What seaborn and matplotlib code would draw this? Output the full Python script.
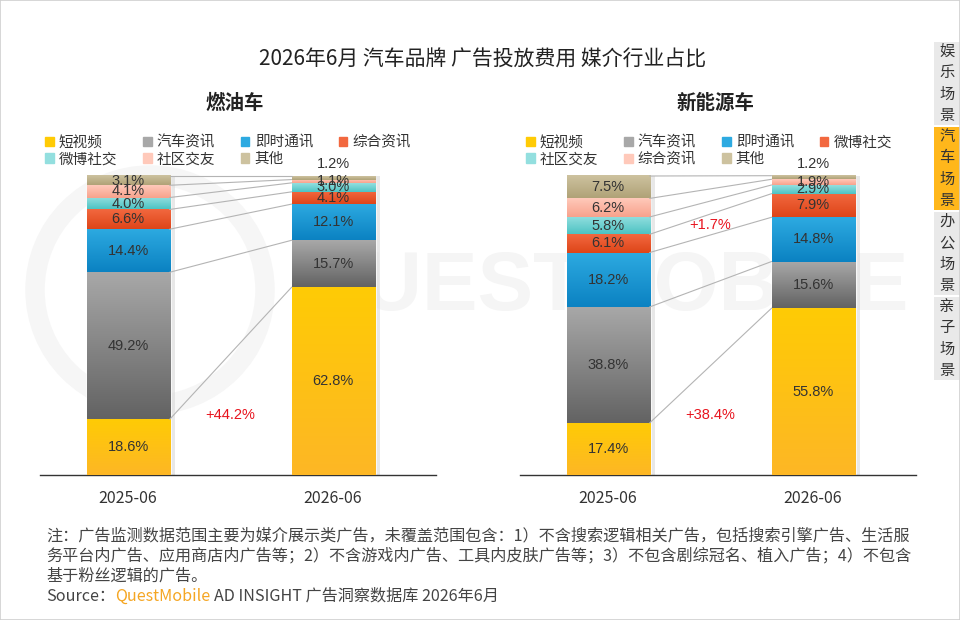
import numpy as np
import pandas as pd
import matplotlib
matplotlib.use("Agg")
import matplotlib.pyplot as plt
import seaborn as sns
from matplotlib.patches import Rectangle, Patch, Ellipse
from matplotlib.colors import LinearSegmentedColormap

sns.set_style("white")
plt.rcParams['font.family'] = ['Noto Sans CJK SC', 'DejaVu Sans']

# ---- data ----
periods = ["2025-06", "2026-06"]

fuel_labels = ["短视频", "汽车资讯", "即时通讯", "综合资讯", "微博社交", "社区交友", "其他"]
fuel_2025 = [18.6, 49.2, 14.4, 6.6, 4.0, 4.1, 3.1]
fuel_2026 = [62.8, 15.7, 12.1, 4.1, 3.0, 1.1, 1.2]
fuel_note = "+44.2%"

nev_labels = ["短视频", "汽车资讯", "即时通讯", "微博社交", "社区交友", "综合资讯", "其他"]
nev_2025 = [17.4, 38.8, 18.2, 6.1, 5.8, 6.2, 7.5]
nev_2026 = [55.8, 15.6, 14.8, 7.9, 2.9, 1.9, 1.2]
nev_notes = [("+38.4%", 20), ("+1.7%", 83.5)]

# segment colours (top, bottom) by stack position
seg_colors = [("#FFCB05", "#FDB725"), ("#A8A8A8", "#636363"), ("#2DAAE1", "#0B82C2"),
              ("#F2683F", "#DE4519"), ("#93DFDF", "#4DC3C3"), ("#FFC9BA", "#F8A28C"),
              ("#CDC29F", "#B0A277")]

W, H = 960, 620
fig = plt.figure(figsize=(W / 100, H / 100), dpi=100)


def fx(px):
    return px / W


def fy(py):
    return 1 - py / H


# watermark, kept behind the axes
fig.text(fx(603), fy(288), "QUESTMOBILE", fontsize=60, fontweight="bold", color="#f5f5f5",
         ha="center", va="center", family="Liberation Sans", zorder=-10)
fig.patches.append(Ellipse((fx(150), fy(290)), 230 / W, 230 / H, transform=fig.transFigure,
                           fill=False, lw=14, ec="#f6f6f6", zorder=-10))

BAR_W = 0.405
PX_PER_UNIT = 2.99


def draw_panel(left_px, labels, v0, v1, notes, subtitle, legend_x):
    ax = fig.add_axes([fx(left_px), fy(475), 396 / W, 110 * PX_PER_UNIT / H])
    ax.patch.set_alpha(0)
    c0 = np.cumsum(v0)
    c1 = np.cumsum(v1)
    n = len(labels)
    # stacked bars: tallest cumulative first
    for k in range(n - 1, -1, -1):
        sns.barplot(x=periods, y=[c0[k], c1[k]], color=seg_colors[k][0], width=BAR_W,
                    saturation=1, ax=ax, zorder=2)
    # gradient fill per segment
    for k in range(n):
        cmap = LinearSegmentedColormap.from_list("g%d" % k, [seg_colors[k][1], seg_colors[k][0]])
        grad = np.linspace(0, 1, 64).reshape(-1, 1)
        for i, (vals, cum) in enumerate([(v0, c0), (v1, c1)]):
            bottom = cum[k] - vals[k]
            ax.imshow(grad, cmap=cmap, origin="lower", aspect="auto", interpolation="bilinear",
                      extent=(i - BAR_W / 2, i + BAR_W / 2, bottom, cum[k]), zorder=3)
            # value label
            y = bottom + vals[k] / 2
            if k == n - 1 and vals[k] < 2:
                y = cum[k] + 4
            ax.text(i, y, f"{vals[k]:.1f}%", ha="center", va="center", fontsize=10.5,
                    color="#333333", family="Liberation Sans", zorder=5)
    # soft shadow right of bars
    for i, cum in enumerate([c0, c1]):
        ax.add_patch(Rectangle((i + BAR_W / 2, 0), 0.025, cum[-1], color="#d9d9d9",
                               alpha=0.6, lw=0, zorder=1))
    # connector lines
    for k in range(n):
        ax.plot([BAR_W / 2, 1 - BAR_W / 2], [c0[k], c1[k]], color="#b4b4b4", lw=0.8, zorder=4)
    for txt, y in notes:
        ax.text(0.5, y, txt, ha="center", va="center", fontsize=10.5, color="#E8141E",
                family="Liberation Sans", zorder=5)
    ax.set_xlim(-0.43, 1.502)
    ax.set_ylim(0, 110)
    ax.set_yticks([])
    ax.set_ylabel("")
    ax.set_xlabel("")
    ax.tick_params(axis="x", length=0, pad=11, labelsize=11.5, labelcolor="#333333")
    for s in ["top", "right", "left"]:
        ax.spines[s].set_visible(False)
    ax.spines["bottom"].set_color("#333333")
    ax.spines["bottom"].set_linewidth(1.0)
    # subtitle
    fig.text(fx(left_px + 195), fy(103), subtitle, ha="center", va="center", fontsize=14,
             fontweight="bold", color="#222222")
    # legend: row-major order in 4 columns
    handles = [Patch(color=seg_colors[k][0]) for k in range(n)]
    order = [0, 4, 1, 5, 2, 6, 3]
    fig.legend([handles[i] for i in order], [labels[i] for i in order], loc="upper left",
               bbox_to_anchor=(fx(legend_x), fy(135)), ncol=4, frameon=False,
               handlelength=0.6, handleheight=0.6, handletextpad=0.35, columnspacing=1.75,
               labelspacing=0.2, fontsize=10.5, borderpad=0, borderaxespad=0,
               labelcolor="#333333")
    return ax


draw_panel(40, fuel_labels, fuel_2025, fuel_2026, [(fuel_note, 20)], "燃油车", 45)
draw_panel(520, nev_labels, nev_2025, nev_2026, nev_notes, "新能源车", 526)

# title
fig.text(fx(483), fy(60), "2026年6月 汽车品牌 广告投放费用 媒介行业占比", ha="center", va="center",
         fontsize=15, fontweight="medium", color="#222222")

# side tabs
tabs = ["娱乐场景", "汽车场景", "办公场景", "亲子场景"]
tab_tops = [42, 127, 212, 297]
for name, top in zip(tabs, tab_tops):
    active = name == "汽车场景"
    fig.patches.append(Rectangle((fx(934), fy(top + 83)), fx(26), 83 / H, transform=fig.transFigure,
                                 color="#FFB71B" if active else "#E9E9E9", lw=0, zorder=1))
    fig.text(fx(947), fy(top + 41.5), "\n".join(name), ha="center", va="center", fontsize=11,
             linespacing=1.35, color="#333333")

# footnote
notes = ["注：广告监测数据范围主要为媒介展示类广告，未覆盖范围包含：1）不含搜索逻辑相关广告，包括搜索引擎广告、生活服",
         "务平台内广告、应用商店内广告等；2）不含游戏内广告、工具内皮肤广告等；3）不包含剧综冠名、植入广告；4）不包含",
         "基于粉丝逻辑的广告。"]
FS = 11.6
for i, line in enumerate(notes):
    fig.text(fx(46), fy(536 + 20 * i), line, ha="left", va="center", fontsize=FS, color="#444444")
t = fig.text(fx(46), fy(596), "Source：", ha="left", va="center", fontsize=FS, color="#444444")
fig.canvas.draw()
r = fig.canvas.get_renderer()
bb = t.get_window_extent(r)
t2 = fig.text(bb.x1 / W, fy(596), "QuestMobile", ha="left", va="center", fontsize=FS, color="#F5A623")
bb2 = t2.get_window_extent(r)
fig.text(bb2.x1 / W + fx(4), fy(596), "AD INSIGHT 广告洞察数据库 2026年6月", ha="left", va="center",
         fontsize=FS, color="#444444")

# outer border
fig.patches.append(Rectangle((0.0005, 0.0008), 0.999, 0.9984, transform=fig.transFigure, fill=False,
                             ec="#cfcfcf", lw=1.2, zorder=10))

fig.savefig("out.png", dpi=100)
